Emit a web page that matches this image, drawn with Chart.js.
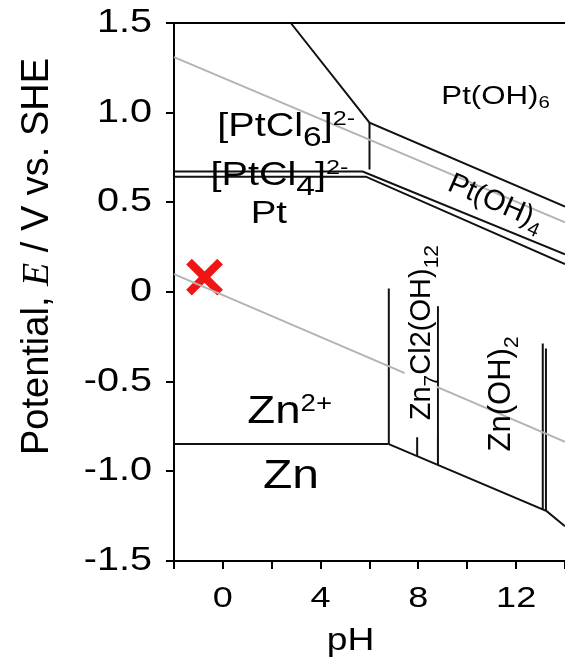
<!DOCTYPE html>
<html><head><meta charset="utf-8">
<script src="https://cdn.jsdelivr.net/npm/chart.js@4.4.1/dist/chart.umd.min.js"></script>
<style>html,body{margin:0;padding:0;background:#fff;}canvas{display:block;}</style>
</head><body>
<canvas id="c" width="565" height="661"></canvas>
<script>
// ---------- data (x = pH, y = E / V vs. SHE) ----------
const xTickLabels = ['', '0', '', '4', '', '8', '', '12', ''];
const yTickLabels = ['-1.5', '-1.0', '-0.5', '0', '0.5', '1.0', '1.5'];

const waterOxygenLine   = [[-2, 1.31], [14, 0.388]];
const waterHydrogenLine = [[-2, 0.10], [14, -0.835]];

const ptHydroxide6Boundary = [[2.78, 1.5], [6.0, 0.944], [14, 0.476]];
const ptChloride6Vertical  = [[6.0, 0.944], [6.0, 0.683]];
const ptUpperDoubleLine    = [[-2, 0.672], [5.72, 0.672], [14, 0.21]];
const ptLowerDoubleLine    = [[-2, 0.643], [5.85, 0.643], [14, 0.155]];

const znIonBoundary   = [[-2, -0.848], [6.79, -0.848]];
const znMetalBoundary = [[6.79, -0.848], [13.25, -1.222], [14, -1.306]];
const znVertical1 = [[6.79, 0.02], [6.79, -0.848]];
const znVertical2 = [[7.95, -0.81], [7.95, -0.916]];
const znVertical3 = [[8.8, -0.08], [8.8, -0.965]];
const znVertical4 = [[13.09, -0.287], [13.09, -1.213]];
const znVertical5 = [[13.22, -0.315], [13.22, -1.22]];

const markerPoint = [[-0.75, 0.083]];

// ---------- styling / layout ----------
const SANS = '"Liberation Sans", Arial, Helvetica, sans-serif';
const SERIF = '"Liberation Serif", "Times New Roman", serif';
const STRETCH = 1.2;   // horizontal text stretch of the reference figure
Chart.defaults.font.family = SANS;
Chart.defaults.color = '#000';

const toXY = pts => pts.map(([x, y]) => ({x, y}));
const lineSet = (pts, color, width) => ({
  data: toXY(pts), showLine: true, borderColor: color, borderWidth: width,
  pointRadius: 0, pointHoverRadius: 0, fill: false, tension: 0
});

const GRAY = '#b4b4b4', BLACK = '#111';

// region labels: anchor in data units (left end of baseline), text parts with size and offsets
const regionLabels = [
  {x: 8.94, y: 1.047, rot: 0, sx: STRETCH, parts: [{t: 'Pt(OH)', s: 26}, {t: '6', s: 17, dy: 4}]},
  {x: -0.23, y: 0.871, rot: 0, sx: STRETCH, parts: [{t: '[PtCl', s: 33}, {t: '6', s: 28, dy: 10}, {t: ']', s: 33}, {t: '2-', s: 21, dy: -11}]},
  {x: -0.505, y: 0.598, rot: 0, sx: STRETCH, parts: [{t: '[PtCl', s: 33}, {t: '4', s: 28, dy: 10}, {t: ']', s: 33}, {t: '2-', s: 21, dy: -11}]},
  {x: 1.14, y: 0.382, rot: 0, sx: STRETCH, parts: [{t: 'Pt', s: 32}]},
  {x: 9.14, y: 0.57, rot: 23.5, sx: 1, parts: [{t: 'Pt(OH)', s: 29}, {t: '4', s: 20, dy: 8}]},
  {x: 1.0, y: -0.731, rot: 0, sx: STRETCH, parts: [{t: 'Zn', s: 38}, {t: '2+', s: 23, dy: -12}]},
  {x: 1.64, y: -1.092, rot: 0, sx: STRETCH, parts: [{t: 'Zn', s: 40}]},
  {x: 8.46, y: -0.715, rot: -90, sx: 1, box: [-16, -25, 204, 32], parts: [{t: 'Zn', s: 29}, {t: '7', s: 21, dy: 8}, {t: 'Cl2(OH)', s: 29}, {t: '12', s: 21, dy: 8}]},
  {x: 11.75, y: -0.889, rot: -90, sx: 1, parts: [{t: 'Zn(OH)', s: 31}, {t: '2', s: 21, dy: 8}]},
  // x-axis title (placed under the axis, left of centre as in the figure)
  {x: 4.25, y: -1.995, rot: 0, sx: STRETCH, parts: [{t: 'pH', s: 31}]}
];

function drawParts(ctx, parts) {
  ctx.fillStyle = '#000';
  ctx.textBaseline = 'alphabetic';
  ctx.textAlign = 'left';
  let cx = 0;
  for (const p of parts) {
    ctx.font = (p.style ? p.style + ' ' : '') + p.s + 'px ' + (p.f || SANS);
    ctx.fillText(p.t, cx, p.dy || 0);
    cx += ctx.measureText(p.t).width;
  }
}

const labelPlugin = {
  id: 'regionLabels',
  beforeInit(chart) {
    // stretch axis tick text horizontally about its anchor (unrotated text only)
    const ctx = chart.ctx;
    const orig = ctx.fillText.bind(ctx);
    ctx.fillText = function (text, x, y, ...rest) {
      const m = this.getTransform();
      if (this.__noStretch || Math.abs(m.b) > 1e-6 || Math.abs(m.c) > 1e-6) return orig(text, x, y, ...rest);
      const p = m.transformPoint(new DOMPoint(x, y));
      this.save();
      this.setTransform(new DOMMatrix().translate(p.x, p.y).scale(STRETCH, 1).translate(-p.x, -p.y).multiply(m));
      orig(text, x, y, ...rest);
      this.restore();
    };
  },
  afterDraw(chart) {
    const ctx = chart.ctx, xs = chart.scales.x, ys = chart.scales.y;
    ctx.__noStretch = true;
    for (const L of regionLabels) {
      const px = xs.getPixelForValue(L.x), py = ys.getPixelForValue(L.y);
      ctx.save();
      ctx.translate(px, py);
      ctx.scale(L.sx, 1);
      ctx.rotate(L.rot * Math.PI / 180);
      if (L.box) {
        ctx.fillStyle = '#fff';
        ctx.fillRect(L.box[0], L.box[1], L.box[2], L.box[3]);
      }
      drawParts(ctx, L.parts);
      ctx.restore();
    }
    // y-axis title with italic serif E
    ctx.save();
    ctx.translate(chart.chartArea.left - 126, 455);
    ctx.rotate(-Math.PI / 2);
    drawParts(ctx, [
      {t: 'Potential, ', s: 38},
      {t: 'E', s: 38, style: 'italic', f: SERIF},
      {t: ' / V vs. SHE', s: 38}
    ]);
    ctx.restore();
    ctx.__noStretch = false;
  }
};

new Chart(document.getElementById('c'), {
  type: 'scatter',
  data: {
    datasets: [
      lineSet(waterOxygenLine, GRAY, 2),
      lineSet(waterHydrogenLine, GRAY, 2),
      lineSet(ptHydroxide6Boundary, BLACK, 2),
      lineSet(ptChloride6Vertical, BLACK, 2),
      lineSet(ptUpperDoubleLine, BLACK, 2),
      lineSet(ptLowerDoubleLine, BLACK, 2),
      lineSet(znIonBoundary, BLACK, 2),
      lineSet(znMetalBoundary, BLACK, 2),
      lineSet(znVertical1, BLACK, 2),
      lineSet(znVertical2, BLACK, 2),
      lineSet(znVertical3, BLACK, 2),
      lineSet(znVertical4, BLACK, 2),
      lineSet(znVertical5, BLACK, 2),
      {
        data: toXY(markerPoint), showLine: false, pointStyle: 'crossRot',
        pointRadius: 22, pointHoverRadius: 22, borderColor: '#f01414', pointBorderColor: '#f01414',
        borderWidth: 8, pointBorderWidth: 8
      }
    ]
  },
  options: {
    responsive: false, animation: false, devicePixelRatio: 1, events: [],
    layout: {padding: 0, autoPadding: false},
    clip: false,
    plugins: {legend: {display: false}, tooltip: {enabled: false}},
    scales: {
      x: {
        type: 'linear', position: 'bottom', min: -2, max: 14,
        afterFit: s => { s.height = 100; s.paddingLeft = 0; s.paddingRight = 0; },
        ticks: {stepSize: 2, autoSkip: false, maxRotation: 0, color: '#000', font: {size: 30}, padding: 12,
          callback: (v, i) => xTickLabels[i]},
        grid: {drawOnChartArea: false, drawTicks: true, tickLength: 8, color: '#000', lineWidth: 2},
        border: {display: true, color: '#000', width: 2},
        title: {display: false}
      },
      xTop: {
        type: 'linear', position: 'top', min: -2, max: 14,
        afterFit: s => { s.height = 23; s.paddingLeft = 0; s.paddingRight = 0; },
        ticks: {display: false}, grid: {display: false, drawTicks: false},
        border: {display: true, color: '#000', width: 2}
      },
      y: {
        type: 'linear', min: -1.5, max: 1.5,
        afterFit: s => { s.width = 174; s.paddingTop = 0; s.paddingBottom = 0; },
        ticks: {stepSize: 0.5, color: '#000', font: {size: 33}, padding: 14,
          callback: (v, i) => yTickLabels[i]},
        grid: {drawOnChartArea: false, drawTicks: true, tickLength: 8, color: '#000', lineWidth: 2},
        border: {display: true, color: '#000', width: 2}
      }
    }
  },
  plugins: [labelPlugin]
});
</script>
</body></html>
